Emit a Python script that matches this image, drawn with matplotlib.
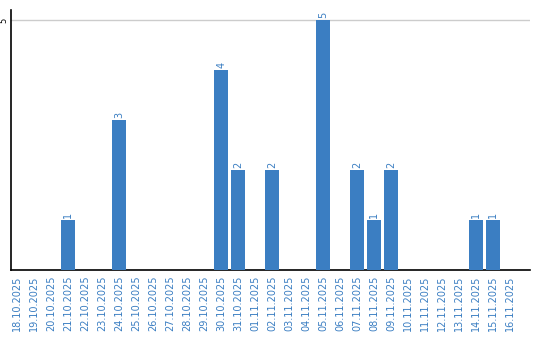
import matplotlib
matplotlib.use("Agg")
import matplotlib.pyplot as plt

dates = ["18.10.2025", "19.10.2025", "20.10.2025", "21.10.2025", "22.10.2025",
         "23.10.2025", "24.10.2025", "25.10.2025", "26.10.2025", "27.10.2025",
         "28.10.2025", "29.10.2025", "30.10.2025", "31.10.2025", "01.11.2025",
         "02.11.2025", "03.11.2025", "04.11.2025", "05.11.2025", "06.11.2025",
         "07.11.2025", "08.11.2025", "09.11.2025", "10.11.2025", "11.11.2025",
         "12.11.2025", "13.11.2025", "14.11.2025", "15.11.2025", "16.11.2025"]
values = [0, 0, 0, 1, 0, 0, 3, 0, 0, 0, 0, 0, 4, 2, 0,
          2, 0, 0, 5, 0, 2, 1, 2, 0, 0, 0, 0, 1, 1, 0]

blue = "#3b7ec2"
fig = plt.figure(figsize=(5.4, 3.4), dpi=100)
ax = fig.add_axes([11/540, 70/340, 519/540, 260/340])
x = list(range(len(dates)))
bars = ax.bar(x, values, width=0.82, color=blue, zorder=3)
for xi, v in zip(x, values):
    if v > 0:
        ax.text(xi, v + 0.04, str(v), rotation=90, ha="center", va="bottom",
                color=blue, fontsize=7)
ax.set_xlim(-0.35, 30.15)
ax.set_ylim(0, 5.2)
ax.set_xticks(x)
ax.set_xticklabels(dates, rotation=90, color=blue, fontsize=7)
ax.tick_params(axis="x", length=0, pad=4)
ax.set_yticks([5])
ax.set_yticklabels(["5"], rotation=90, fontsize=6, va="center", ha="right")
ax.tick_params(axis="y", length=0, pad=2)
ax.grid(axis="y", color="#cccccc", linewidth=1, zorder=0)
ax.spines["top"].set_visible(False)
ax.spines["right"].set_visible(False)
ax.spines["left"].set_linewidth(1.2)
ax.spines["bottom"].set_linewidth(1.2)
fig.savefig("out.png", dpi=100)
